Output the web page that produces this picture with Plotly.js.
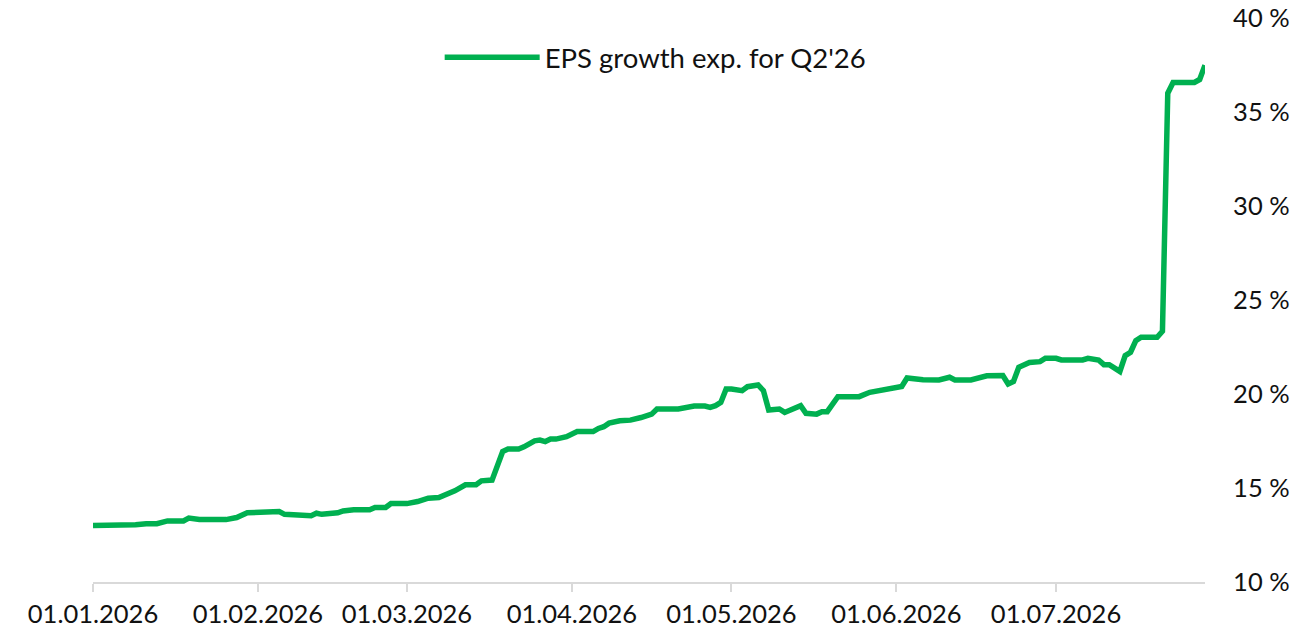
<!DOCTYPE html>
<html>
<head>
<meta charset="utf-8">
<script src="https://cdn.plot.ly/plotly-3.0.1.min.js"></script>
<style>
  html, body { margin: 0; padding: 0; background: #ffffff; }
  #chart { width: 1299px; height: 644px; }
</style>
</head>
<body>
<div id="chart"></div>
<script>
// Datos
const dates = [
  '2026-01-01', '2026-01-05', '2026-01-06', '2026-01-09', '2026-01-11', '2026-01-13',
  '2026-01-15', '2026-01-18', '2026-01-19', '2026-01-21', '2026-01-26', '2026-01-28',
  '2026-01-30', '2026-02-04', '2026-02-05', '2026-02-06', '2026-02-08', '2026-02-09',
  '2026-02-11', '2026-02-12', '2026-02-13', '2026-02-16', '2026-02-17', '2026-02-19',
  '2026-02-22', '2026-02-23', '2026-02-25', '2026-02-26', '2026-03-01', '2026-03-03',
  '2026-03-05', '2026-03-07', '2026-03-09', '2026-03-10', '2026-03-12', '2026-03-14',
  '2026-03-15', '2026-03-17', '2026-03-19', '2026-03-20', '2026-03-22', '2026-03-23',
  '2026-03-25', '2026-03-26', '2026-03-27', '2026-03-28', '2026-03-29', '2026-03-30',
  '2026-03-31', '2026-04-02', '2026-04-05', '2026-04-06', '2026-04-07', '2026-04-08',
  '2026-04-10', '2026-04-12', '2026-04-13', '2026-04-14', '2026-04-16', '2026-04-17',
  '2026-04-21', '2026-04-22', '2026-04-23', '2026-04-24', '2026-04-26', '2026-04-27',
  '2026-04-28', '2026-04-29', '2026-04-30', '2026-05-01', '2026-05-03', '2026-05-04',
  '2026-05-06', '2026-05-07', '2026-05-08', '2026-05-10', '2026-05-11', '2026-05-14',
  '2026-05-15', '2026-05-17', '2026-05-18', '2026-05-19', '2026-05-21', '2026-05-25',
  '2026-05-27', '2026-05-30', '2026-05-31', '2026-06-02', '2026-06-03', '2026-06-06',
  '2026-06-09', '2026-06-11', '2026-06-12', '2026-06-15', '2026-06-18', '2026-06-21',
  '2026-06-22', '2026-06-23', '2026-06-24', '2026-06-26', '2026-06-28', '2026-06-29',
  '2026-07-01', '2026-07-02', '2026-07-06', '2026-07-07', '2026-07-09', '2026-07-10',
  '2026-07-11', '2026-07-13', '2026-07-14', '2026-07-15', '2026-07-16', '2026-07-17',
  '2026-07-20', '2026-07-21', '2026-07-22', '2026-07-23', '2026-07-27', '2026-07-28',
  '2026-07-29'
];

const epsGrowth = [
  13.0, 13.0, 13.05, 13.05, 13.1, 13.1,
  13.25, 13.25, 13.4, 13.32, 13.32, 13.43,
  13.68, 13.68, 13.75, 13.6, 13.6, 13.53,
  13.53, 13.66, 13.6, 13.68, 13.78, 13.84,
  13.84, 13.96, 13.96, 14.17, 14.17, 14.28,
  14.46, 14.49, 14.7, 14.85, 15.17, 15.17,
  15.38, 15.42, 16.94, 17.07, 17.07, 17.19,
  17.51, 17.55, 17.47, 17.6, 17.6, 17.69,
  17.73, 18.0, 18.0, 18.17, 18.26, 18.45,
  18.58, 18.61, 18.67, 18.75, 18.93, 19.2,
  19.2, 19.25, 19.25, 19.36, 19.36, 19.29,
  19.38, 19.55, 20.27, 20.27, 20.18, 20.39,
  20.48, 20.18, 19.15, 19.2, 19.02, 19.38,
  18.97, 18.93, 19.06, 19.06, 19.86, 19.86,
  20.09, 20.27, 20.27, 20.4, 20.85, 20.76,
  20.75, 20.89, 20.75, 20.75, 20.97, 20.98,
  20.53, 20.67, 21.42, 21.68, 21.72, 21.9,
  21.9, 21.81, 21.81, 21.9, 21.81, 21.56,
  21.56, 21.2, 22.04, 22.22, 22.84, 23.02,
  23.02, 23.34, 36.0, 36.57, 36.57, 36.73,
  37.49
];

const seriesName = "EPS growth exp. for Q2'26";
const yTicks = [10, 15, 20, 25, 30, 35, 40];
const yTickText = yTicks.map(v => v + ' %');

const FONT = 'Lato, "Open Sans", sans-serif';

const trace = {
  type: 'scatter',
  mode: 'lines',
  name: seriesName,
  x: dates,
  y: epsGrowth,
  line: { color: '#00b050', width: 5.5, shape: 'linear' },
  hoverinfo: 'x+y'
};

const layout = {
  width: 1299,
  height: 644,
  paper_bgcolor: '#ffffff',
  plot_bgcolor: '#ffffff',
  font: { family: FONT, size: 25, color: '#111111' },
  margin: { l: 93, r: 94, t: 18, b: 62 },
  showlegend: true,
  legend: {
    orientation: 'h',
    x: 0.506,
    xanchor: 'center',
    y: 0.93,
    yanchor: 'middle',
    itemwidth: 95,
    font: { family: FONT, size: 27.5, color: '#111111' },
    bgcolor: 'rgba(0,0,0,0)'
  },
  xaxis: {
    type: 'date',
    range: ['2026-01-01', '2026-07-29'],
    tick0: '2026-01-01',
    dtick: 'M1',
    tickformat: '%d.%m.%Y',
    showgrid: false,
    zeroline: false,
    showline: true,
    linecolor: '#d9d9d9',
    linewidth: 2,
    ticks: 'outside',
    ticklen: 8,
    tickwidth: 2,
    tickcolor: '#d9d9d9',
    tickfont: { family: FONT, size: 25.5, color: '#111111' }
  },
  yaxis: {
    side: 'right',
    range: [10, 40],
    tickmode: 'array',
    tickvals: yTicks,
    ticktext: yTickText,
    showgrid: false,
    zeroline: false,
    showline: false,
    ticks: 'outside',
    ticklen: 22,
    tickcolor: 'rgba(0,0,0,0)',
    tickfont: { family: FONT, size: 25.5, color: '#111111' }
  }
};

Plotly.newPlot('chart', [trace], layout, { displayModeBar: false, staticPlot: true });
</script>
</body>
</html>
